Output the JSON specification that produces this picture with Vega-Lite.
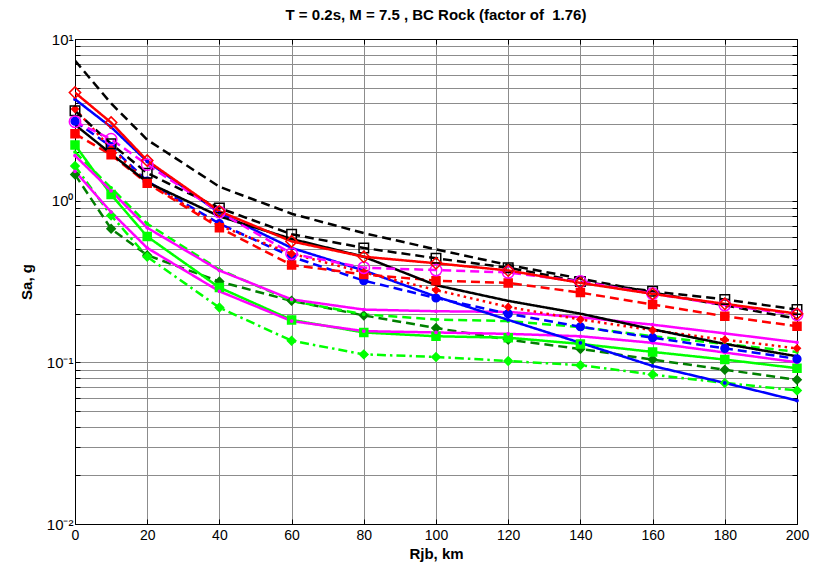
{
  "$schema": "https://vega.github.io/schema/vega-lite/v6.json",
  "width": 722,
  "height": 485,
  "autosize": {"type": "none"},
  "padding": {"left": 75, "top": 39, "right": 20, "bottom": 48},
  "background": "white",
  "config": {
    "view": {"stroke": "black", "strokeWidth": 1},
    "font": "Liberation Sans",
    "axis": {"labelColor": "black", "tickColor": "black", "domainColor": "black", "titleColor": "black", "gridColor": "#8c8c8c", "gridWidth": 1, "gridOpacity": 1}
  },
  "title": {"text": "T = 0.2s, M = 7.5 , BC Rock (factor of\u00a0 1.76)", "fontSize": 15, "fontWeight": "bold", "font": "Liberation Sans", "offset": 9, "color": "black"},
  "data": {"values": [
    {"s":"DG","d":0,"v":1.45},{"s":"DG","d":10,"v":0.67},{"s":"DG","d":20,"v":0.46},{"s":"DG","d":40,"v":0.316},{"s":"DG","d":60,"v":0.24},{"s":"DG","d":80,"v":0.195},{"s":"DG","d":100,"v":0.163},{"s":"DG","d":120,"v":0.138},{"s":"DG","d":140,"v":0.121},{"s":"DG","d":160,"v":0.104},{"s":"DG","d":180,"v":0.09},{"s":"DG","d":200,"v":0.078},
    {"s":"G3","d":0,"v":1.64},{"s":"G3","d":10,"v":0.81},{"s":"G3","d":20,"v":0.45},{"s":"G3","d":40,"v":0.218},{"s":"G3","d":60,"v":0.136},{"s":"G3","d":80,"v":0.112},{"s":"G3","d":100,"v":0.108},{"s":"G3","d":120,"v":0.102},{"s":"G3","d":140,"v":0.096},{"s":"G3","d":160,"v":0.084},{"s":"G3","d":180,"v":0.0746},{"s":"G3","d":200,"v":0.067},
    {"s":"G2","d":0,"v":2.0},{"s":"G2","d":10,"v":1.2},{"s":"G2","d":20,"v":0.72},{"s":"G2","d":40,"v":0.375},{"s":"G2","d":60,"v":0.24},{"s":"G2","d":80,"v":0.198},{"s":"G2","d":100,"v":0.184},{"s":"G2","d":120,"v":0.18},{"s":"G2","d":140,"v":0.165},{"s":"G2","d":160,"v":0.145},{"s":"G2","d":180,"v":0.13},{"s":"G2","d":200,"v":0.116},
    {"s":"G1","d":0,"v":2.21},{"s":"G1","d":10,"v":1.09},{"s":"G1","d":20,"v":0.6},{"s":"G1","d":40,"v":0.29},{"s":"G1","d":60,"v":0.183},{"s":"G1","d":80,"v":0.153},{"s":"G1","d":100,"v":0.145},{"s":"G1","d":120,"v":0.142},{"s":"G1","d":140,"v":0.13},{"s":"G1","d":160,"v":0.116},{"s":"G1","d":180,"v":0.104},{"s":"G1","d":200,"v":0.092},
    {"s":"M2","d":0,"v":1.52},{"s":"M2","d":10,"v":0.85},{"s":"M2","d":20,"v":0.51},{"s":"M2","d":40,"v":0.275},{"s":"M2","d":60,"v":0.18},{"s":"M2","d":80,"v":0.156},{"s":"M2","d":100,"v":0.153},{"s":"M2","d":120,"v":0.15},{"s":"M2","d":140,"v":0.145},{"s":"M2","d":160,"v":0.132},{"s":"M2","d":180,"v":0.115},{"s":"M2","d":200,"v":0.1},
    {"s":"M1","d":0,"v":1.9},{"s":"M1","d":10,"v":1.15},{"s":"M1","d":20,"v":0.68},{"s":"M1","d":40,"v":0.37},{"s":"M1","d":60,"v":0.245},{"s":"M1","d":80,"v":0.212},{"s":"M1","d":100,"v":0.207},{"s":"M1","d":120,"v":0.205},{"s":"M1","d":140,"v":0.19},{"s":"M1","d":160,"v":0.171},{"s":"M1","d":180,"v":0.151},{"s":"M1","d":200,"v":0.133},
    {"s":"B1","d":0,"v":4.24},{"s":"B1","d":10,"v":2.85},{"s":"B1","d":20,"v":1.75},{"s":"B1","d":40,"v":0.84},{"s":"B1","d":60,"v":0.51},{"s":"B1","d":80,"v":0.37},{"s":"B1","d":100,"v":0.255},{"s":"B1","d":120,"v":0.183},{"s":"B1","d":140,"v":0.132},{"s":"B1","d":160,"v":0.095},{"s":"B1","d":180,"v":0.0746},{"s":"B1","d":200,"v":0.058},
    {"s":"B2","d":0,"v":3.1},{"s":"B2","d":10,"v":2.16},{"s":"B2","d":20,"v":1.32},{"s":"B2","d":40,"v":0.72},{"s":"B2","d":60,"v":0.45},{"s":"B2","d":80,"v":0.32},{"s":"B2","d":100,"v":0.25},{"s":"B2","d":120,"v":0.2},{"s":"B2","d":140,"v":0.166},{"s":"B2","d":160,"v":0.142},{"s":"B2","d":180,"v":0.122},{"s":"B2","d":200,"v":0.105},
    {"s":"R3","d":0,"v":2.59},{"s":"R3","d":10,"v":1.92},{"s":"R3","d":20,"v":1.28},{"s":"R3","d":40,"v":0.68},{"s":"R3","d":60,"v":0.4},{"s":"R3","d":80,"v":0.35},{"s":"R3","d":100,"v":0.32},{"s":"R3","d":120,"v":0.31},{"s":"R3","d":140,"v":0.27},{"s":"R3","d":160,"v":0.228},{"s":"R3","d":180,"v":0.193},{"s":"R3","d":200,"v":0.167},
    {"s":"R2","d":0,"v":3.69},{"s":"R2","d":10,"v":2.1},{"s":"R2","d":20,"v":1.3},{"s":"R2","d":40,"v":0.7},{"s":"R2","d":60,"v":0.47},{"s":"R2","d":80,"v":0.36},{"s":"R2","d":100,"v":0.28},{"s":"R2","d":120,"v":0.22},{"s":"R2","d":140,"v":0.184},{"s":"R2","d":160,"v":0.158},{"s":"R2","d":180,"v":0.138},{"s":"R2","d":200,"v":0.122},
    {"s":"C","d":0,"v":2.95},{"s":"C","d":10,"v":1.95},{"s":"C","d":20,"v":1.3},{"s":"C","d":40,"v":0.8},{"s":"C","d":60,"v":0.58},{"s":"C","d":80,"v":0.45},{"s":"C","d":100,"v":0.3},{"s":"C","d":120,"v":0.24},{"s":"C","d":140,"v":0.2},{"s":"C","d":160,"v":0.16},{"s":"C","d":180,"v":0.13},{"s":"C","d":200,"v":0.109},
    {"s":"B","d":0,"v":3.6},{"s":"B","d":10,"v":2.25},{"s":"B","d":20,"v":1.48},{"s":"B","d":40,"v":0.9},{"s":"B","d":60,"v":0.62},{"s":"B","d":80,"v":0.51},{"s":"B","d":100,"v":0.44},{"s":"B","d":120,"v":0.385},{"s":"B","d":140,"v":0.316},{"s":"B","d":160,"v":0.275},{"s":"B","d":180,"v":0.245},{"s":"B","d":200,"v":0.212},
    {"s":"A","d":0,"v":7.35},{"s":"A","d":10,"v":4.0},{"s":"A","d":20,"v":2.38},{"s":"A","d":40,"v":1.22},{"s":"A","d":60,"v":0.83},{"s":"A","d":80,"v":0.63},{"s":"A","d":100,"v":0.5},{"s":"A","d":120,"v":0.4},{"s":"A","d":140,"v":0.33},{"s":"A","d":160,"v":0.27},{"s":"A","d":180,"v":0.225},{"s":"A","d":200,"v":0.186},
    {"s":"M0","d":0,"v":3.08},{"s":"M0","d":10,"v":2.4},{"s":"M0","d":20,"v":1.67},{"s":"M0","d":40,"v":0.85},{"s":"M0","d":60,"v":0.47},{"s":"M0","d":80,"v":0.385},{"s":"M0","d":100,"v":0.372},{"s":"M0","d":120,"v":0.36},{"s":"M0","d":140,"v":0.316},{"s":"M0","d":160,"v":0.266},{"s":"M0","d":180,"v":0.226},{"s":"M0","d":200,"v":0.197},
    {"s":"R1","d":0,"v":4.66},{"s":"R1","d":10,"v":3.04},{"s":"R1","d":20,"v":1.77},{"s":"R1","d":40,"v":0.86},{"s":"R1","d":60,"v":0.56},{"s":"R1","d":80,"v":0.45},{"s":"R1","d":100,"v":0.41},{"s":"R1","d":120,"v":0.37},{"s":"R1","d":140,"v":0.31},{"s":"R1","d":160,"v":0.265},{"s":"R1","d":180,"v":0.23},{"s":"R1","d":200,"v":0.2}
  ]},
  "layer": [
    {
      "mark": {"type": "line", "strokeWidth": 2.5, "clip": true},
      "encoding": {
        "x": {"field": "d", "type": "quantitative", "scale": {"domain": [0, 200], "nice": false, "zero": false},
          "axis": {"values": [0,20,40,60,80,100,120,140,160,180,200], "grid": true, "tickSize": -5, "labelFontSize": 14, "labelPadding": 9, "title": "Rjb, km", "titleFontSize": 15, "titleFontWeight": "bold", "titlePadding": 4, "labelFlush": false}},
        "y": {"field": "v", "type": "quantitative", "scale": {"type": "log", "domain": [0.01, 10], "nice": false},
          "axis": {"values": [0.01,0.02,0.03,0.04,0.05,0.06,0.07,0.08,0.09,0.1,0.2,0.3,0.4,0.5,0.6,0.7,0.8,0.9,1,2,3,4,5,6,7,8,9,10], "grid": true, "tickSize": -5, "labelFontSize": 15, "labelPadding": 7, "labelExpr": "datum.value == 10 ? '10\u00b9' : datum.value == 1 ? '10\u2070' : datum.value == 0.1 ? '10\u207b\u00b9' : datum.value == 0.01 ? '10\u207b\u00b2' : ''", "title": "Sa, g", "titleFontSize": 15, "titleFontWeight": "bold", "titlePadding": 12, "labelFlush": false, "labelOverlap": false}},
        "stroke": {"field": "s", "type": "nominal", "legend": null,
          "scale": {"domain": ["DG","G3","G2","G1","M2","M1","B1","B2","R3","R2","C","B","A","M0","R1"],
                    "range": ["#008000","#00ff00","#00ff00","#00ff00","#ff00ff","#ff00ff","#0000ff","#0000ff","#ff0000","#ff0000","#000000","#000000","#000000","#ff00ff","#ff0000"]}},
        "strokeDash": {"field": "s", "type": "nominal", "legend": null,
          "scale": {"domain": ["DG","G3","G2","G1","M2","M1","B1","B2","R3","R2","C","B","A","M0","R1"],
                    "range": [[9,5],[9,4,2.5,4],[9,5],[1,0],[1,0],[1,0],[1,0],[9,5],[9,5],[2.5,4],[1,0],[9,5],[9,5],[9,5],[1,0]]}}
      }
    },
    {
      "transform": [{"filter": "datum.s != 'A' && datum.s != 'C'"}],
      "mark": {"type": "point", "strokeWidth": 1.5, "opacity": 1},
      "encoding": {
        "x": {"field": "d", "type": "quantitative", "axis": null},
        "y": {"field": "v", "type": "quantitative", "axis": null},
        "shape": {"field": "s", "type": "nominal", "legend": null,
          "scale": {"domain": ["DG","G3","G2","G1","M2","M1","B1","B2","R3","R2","B","M0","R1"],
                    "range": ["diamond","diamond","circle","square","circle","circle","circle","circle","square","diamond","square","circle","diamond"]}},
        "size": {"field": "s", "type": "nominal", "legend": null,
          "scale": {"type": "ordinal", "domain": ["DG","G3","G2","G1","M2","M1","B1","B2","R3","R2","B","M0","R1"],
                    "range": [70,70,5,64,5,5,5,60,64,45,90,130,130]}},
        "stroke": {"field": "s", "type": "nominal", "legend": null,
          "scale": {"domain": ["DG","G3","G2","G1","M2","M1","B1","B2","R3","R2","B","M0","R1"],
                    "range": ["#008000","#00ff00","#00ff00","#00ff00","#ff00ff","#ff00ff","#0000ff","#0000ff","#ff0000","#ff0000","#000000","#ff00ff","#ff0000"]}},
        "fill": {"field": "s", "type": "nominal", "legend": null,
          "scale": {"domain": ["DG","G3","G2","G1","M2","M1","B1","B2","R3","R2","B","M0","R1"],
                    "range": ["#008000","#00ff00","#00ff00","#00ff00","#ff00ff","#ff00ff","#0000ff","#0000ff","#ff0000","#ff0000","transparent","transparent","transparent"]}}
      }
    },
    {
      "mark": {"type": "point", "opacity": 0},
      "encoding": {
        "x": {"field": "d", "type": "quantitative",
          "axis": {"orient": "top", "values": [0,20,40,60,80,100,120,140,160,180,200], "labels": false, "grid": false, "tickSize": -5, "title": null}},
        "y": {"field": "v", "type": "quantitative",
          "axis": {"orient": "right", "values": [0.01,0.02,0.03,0.04,0.05,0.06,0.07,0.08,0.09,0.1,0.2,0.3,0.4,0.5,0.6,0.7,0.8,0.9,1,2,3,4,5,6,7,8,9,10], "labels": false, "grid": false, "tickSize": -5, "title": null}}
      }
    }
  ],
  "resolve": {"axis": {"x": "independent", "y": "independent"}}
}
